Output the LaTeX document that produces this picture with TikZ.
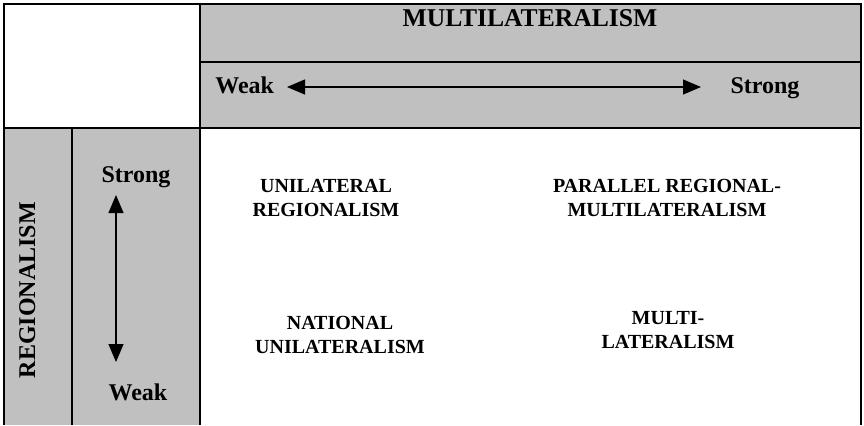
\documentclass[tikz,border=0pt]{standalone}
\usepackage{fontspec}
\setmainfont{Liberation Serif}
\usetikzlibrary{arrows.meta}
\definecolor{cellgray}{HTML}{C0C0C0}
\tikzset{
  rule/.style={line width=1.4pt},
  thinrule/.style={line width=0.6pt},
  headtext/.style={font=\bfseries\fontsize{12}{14}\selectfont, inner sep=0pt, anchor=base},
  celltext/.style={font=\bfseries\fontsize{10}{12}\selectfont, align=center, inner sep=0pt},
  twoway/.style={line width=0.6pt, {Triangle[length=9pt,width=7.5pt]}-{Triangle[length=9pt,width=7.5pt]}}
}
\begin{document}
\begin{tikzpicture}[x=0.5pt,y=-0.5pt]
\useasboundingbox (0,0) rectangle (864,425);
% shaded header bands
\fill[cellgray] (200,4) rectangle (861,128);
\fill[cellgray] (4,128) rectangle (200,425);
% frame and grid
\draw[rule] (4,425) -- (4,4) -- (861,4) -- (861,425);
\draw[rule] (4,128) -- (861,128);
\draw[rule] (200,62) -- (861,62);
\draw[rule] (72,128) -- (72,425);
\draw[rule] (200,4) -- (200,302);
\draw[thinrule] (200,302) -- (200,411);
\draw[rule] (200,411) -- (200,425);

% column header
\node[headtext, font=\bfseries\fontsize{12.8}{15}\selectfont] (multi) at (530,26) {MULTILATERALISM};
\node[headtext, anchor=base west] (hweak) at (215,93) {Weak};
\node[headtext] (hstrong) at (765,93) {Strong};
\coordinate (hl) at (287,87);
\coordinate (hr) at (701,87);
\draw[twoway] (hl) -- (hr);

% row header
\node[headtext, rotate=90] (regio) at (35,290) {REGIONALISM};
\node[headtext] (vstrong) at (136,182) {Strong};
\node[headtext] (vweak) at (138,400) {Weak};
\coordinate (vt) at (116,195);
\coordinate (vb) at (116,362);
\draw[twoway] (vt) -- (vb);

% quadrants
\node[celltext] (ur) at (326,198) {UNILATERAL\\REGIONALISM};
\node[celltext] (prm) at (667,198) {PARALLEL REGIONAL-\\MULTILATERALISM};
\node[celltext] (nu) at (340,335) {NATIONAL\\UNILATERALISM};
\node[celltext] (ml) at (668,330) {MULTI-\\LATERALISM};
\end{tikzpicture}
\end{document}
